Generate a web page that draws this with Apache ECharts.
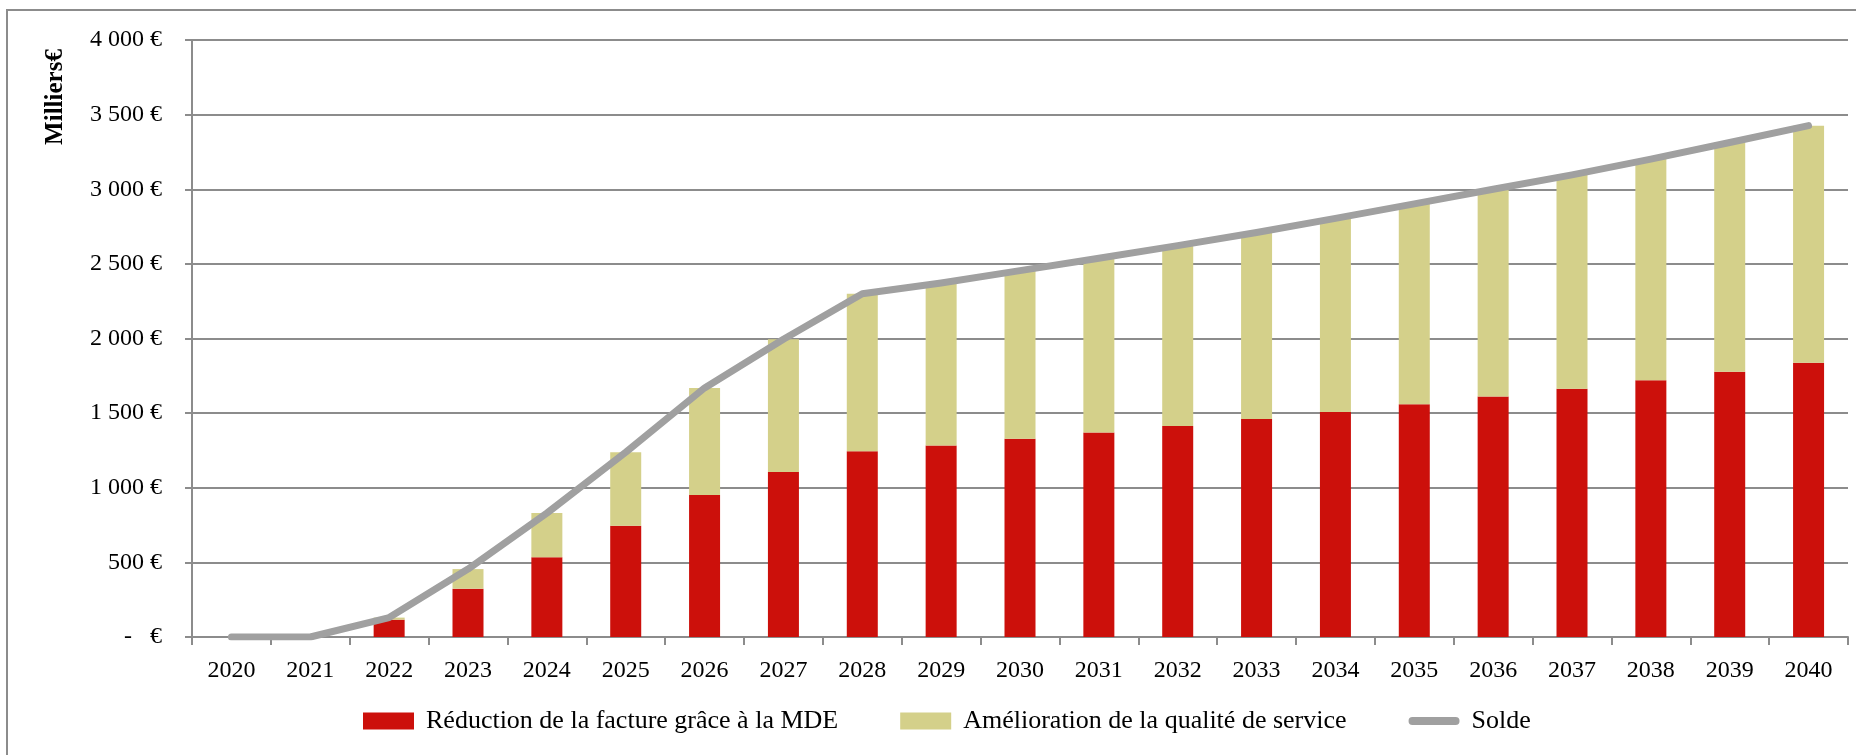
<!DOCTYPE html>
<html>
<head>
<meta charset="utf-8">
<script src="https://cdn.jsdelivr.net/npm/echarts@6/dist/echarts.min.js"></script>
<style>
    html, body { margin: 0; padding: 0; background: #fff; }
    #chart { width: 1856px; height: 755px; }
</style>
</head>
<body>
<div id="chart"></div>
<script>
// data
const years = ['2020', '2021', '2022', '2023', '2024', '2025', '2026', '2027', '2028', '2029', '2030',
    '2031', '2032', '2033', '2034', '2035', '2036', '2037', '2038', '2039', '2040'];
const reductionMDE = [0, 0, 116, 324, 534, 746, 952, 1105, 1245, 1283, 1328, 1370, 1414, 1461, 1508, 1560, 1611, 1664, 1720, 1778, 1838];
const ameliorationQualite = [0, 0, 14, 131, 296, 492, 717, 890, 1055, 1089, 1127, 1168, 1208, 1249, 1297, 1342, 1389, 1432, 1482, 1535, 1588];
const solde = [0, 0, 130, 455, 830, 1238, 1669, 1995, 2300, 2372, 2455, 2538, 2622, 2710, 2805, 2902, 3000, 3096, 3202, 3313, 3426];
const yTicks = [0, 500, 1000, 1500, 2000, 2500, 3000, 3500, 4000];

const seriesNames = ['Réduction de la facture grâce à la MDE', 'Amélioration de la qualité de service', 'Solde'];
const colors = ['#cc100b', '#d4d08a', '#a0a0a0'];
const font = '"Liberation Serif", "DejaVu Serif", serif';
const gridColor = '#8c8c8c';

const fmtEuro = (v) => {
    if (v === 0) return '-   €';
    return String(v).replace(/\B(?=(\d{3})+(?!\d))/g, ' ') + ' €';
};

const myChart = echarts.init(document.getElementById('chart'));
myChart.setOption({
    animation: false,
    color: colors,
    textStyle: { fontFamily: font },
    grid: { left: 192, right: 8, top: 40, bottom: 118, containLabel: false },
    graphic: [
        {
            type: 'polyline',
            shape: { points: [[7, 760], [7, 10], [1870, 10]] },
            style: { stroke: '#8c8c8c', lineWidth: 2, fill: null },
        },
        {
            type: 'text',
            x: 56,
            y: 97,
            rotation: Math.PI / 2,
            style: {
                text: 'Milliers€',
                font: 'bold 25px ' + font,
                fill: '#000',
                align: 'center',
                verticalAlign: 'middle',
            },
        },
    ],
    legend: {
        bottom: 16,
        left: 358,
        itemWidth: 51,
        itemHeight: 17,
        itemGap: 62,
        textStyle: { fontFamily: font, fontSize: 26, color: '#000', padding: [0, 0, 0, 7] },
        data: [
            { name: seriesNames[0], icon: 'rect' },
            { name: seriesNames[1], icon: 'rect' },
            {
                name: seriesNames[2],
                icon: 'path://M4,0 L48,0 A4,4 0 0 1 48,8 L4,8 A4,4 0 0 1 4,0 Z',
                symbolKeepAspect: true,
            },
        ],
    },
    xAxis: {
        type: 'category',
        data: years,
        axisLine: { lineStyle: { color: gridColor, width: 2 } },
        axisTick: { show: true, length: 8, lineStyle: { color: gridColor, width: 2 } },
        axisLabel: { color: '#000', fontFamily: font, fontSize: 24, margin: 22 },
    },
    yAxis: {
        type: 'value',
        min: yTicks[0],
        max: yTicks[yTicks.length - 1],
        interval: 500,
        axisLine: { show: true, lineStyle: { color: gridColor, width: 2 } },
        axisTick: { show: true, length: 7, lineStyle: { color: gridColor, width: 2 } },
        splitLine: { lineStyle: { color: gridColor, width: 2 } },
        axisLabel: { color: '#000', fontFamily: font, fontSize: 24, margin: 30, formatter: fmtEuro },
    },
    series: [
        {
            name: seriesNames[0],
            type: 'bar',
            stack: 'total',
            barWidth: 31,
            data: reductionMDE,
            itemStyle: { color: colors[0] },
        },
        {
            name: seriesNames[1],
            type: 'bar',
            stack: 'total',
            barWidth: 31,
            data: ameliorationQualite,
            itemStyle: { color: colors[1] },
        },
        {
            name: seriesNames[2],
            type: 'line',
            data: solde,
            symbol: 'none',
            itemStyle: { color: colors[2] },
            lineStyle: { color: colors[2], width: 7, cap: 'round', join: 'round' },
            z: 5,
        },
    ],
});
</script>
</body>
</html>
